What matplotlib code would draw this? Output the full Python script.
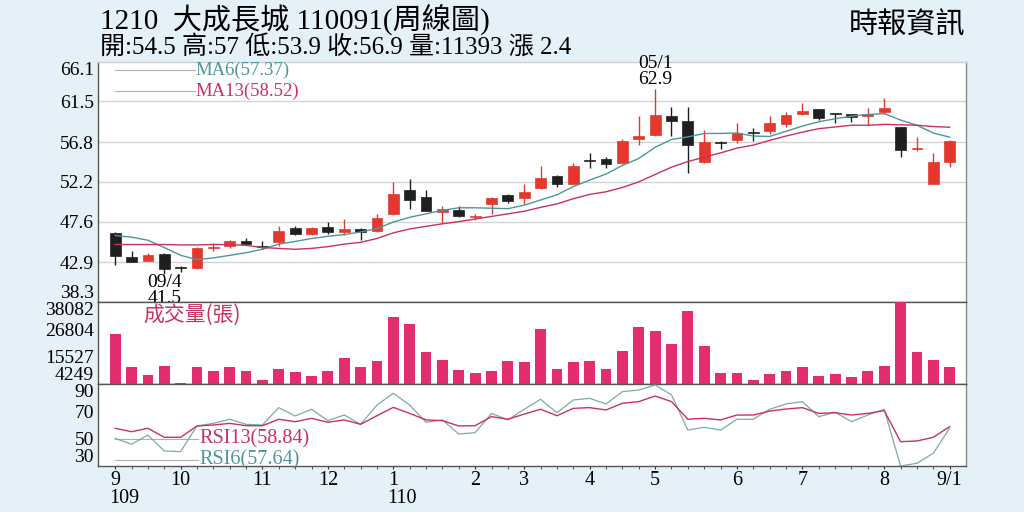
import matplotlib
matplotlib.use('Agg')
import matplotlib.pyplot as plt
import matplotlib.transforms as mtransforms

# 1210 大成長城 週線 (109/09 ~ 110/09/1)
opens = [46.3, 43.55, 43.05, 43.8, 42.4, 42.2, 44.6, 44.8, 45.3, 44.8,
         45.2, 46.9, 46.15, 47.0, 46.4, 46.8, 46.55, 48.45, 51.25, 50.4,
         48.75, 49.0, 48.15, 49.6, 50.65, 50.3, 51.45, 52.9, 52.0, 54.7,
         54.8, 54.35, 57.15, 57.6, 59.85, 59.25, 54.45, 56.85, 57.05, 57.9,
         58.1, 58.95, 60.0, 60.6, 60.1, 60.0, 59.85, 60.25, 58.55, 56.05,
         51.95, 54.5]
highs = [46.4, 44.2, 44.0, 44.0, 42.45, 44.7, 45.1, 45.5, 45.7, 45.3,
         47.1, 47.05, 46.95, 47.6, 47.9, 46.9, 48.5, 52.2, 52.5, 51.25,
         49.4, 49.4, 48.45, 50.4, 50.85, 51.9, 54.0, 53.0, 54.35, 55.5,
         55.1, 57.2, 59.8, 62.9, 60.9, 60.9, 58.2, 56.9, 59.05, 58.4,
         59.8, 60.3, 61.3, 60.6, 60.2, 60.05, 60.7, 61.85, 58.6, 57.35,
         55.55, 57.0]
lows = [42.55, 42.9, 43.0, 41.5, 41.8, 42.15, 44.2, 44.6, 44.9, 44.4,
        44.75, 46.05, 46.1, 46.15, 46.0, 45.5, 46.4, 48.4, 49.1, 48.8,
        47.4, 48.15, 47.8, 48.5, 49.7, 49.6, 51.4, 51.55, 51.95, 53.85,
        53.85, 54.3, 56.45, 57.5, 57.5, 53.25, 54.4, 56.05, 56.65, 56.95,
        57.7, 58.5, 59.95, 59.35, 59.0, 59.15, 58.8, 60.1, 55.1, 55.8,
        51.9, 53.9]
closes = [43.6, 42.95, 43.7, 42.1, 42.2, 44.55, 44.65, 45.3, 45.0, 44.7,
          46.5, 46.15, 46.9, 46.4, 46.8, 46.45, 48.0, 50.75, 50.1, 48.85,
          49.1, 48.25, 48.3, 50.3, 49.95, 51.0, 52.7, 51.95, 54.0, 54.6,
          54.25, 56.95, 57.5, 59.95, 59.25, 56.45, 56.85, 56.65, 57.9, 57.85,
          59.05, 59.95, 60.45, 59.55, 60.05, 59.75, 60.1, 60.7, 55.85, 56.1,
          54.5, 56.9]
volumes = [25016, 11400, 7825, 11538, 4800, 11125, 9750, 11125, 9475, 6037,
           10300, 9200, 7412, 9475, 14976, 11125, 13876, 32030, 29004, 17590,
           14151, 10025, 8787, 9475, 13876, 13326, 27079, 10300, 13188, 13601,
           10300, 18002, 27903, 25978, 20890, 34506, 20064, 8650, 8925, 5762,
           8512, 9612, 11125, 7687, 8237, 6999, 9475, 11813, 38082, 17590,
           14151, 11393]
ma6 = [46.0, 45.8, 45.45, 44.6, 43.7, 43.2, 43.4, 43.7, 44.0, 44.4,
       45.0, 45.3, 45.65, 45.9, 46.1, 46.4, 46.8, 47.55, 48.1, 48.5,
       48.9, 49.2, 49.2, 49.15, 49.1, 49.5, 50.1, 50.7, 51.65, 52.4,
       53.1, 54.1, 54.9, 56.2, 57.1, 57.4, 57.8, 57.8, 57.85, 57.5,
       57.45, 58.05, 58.65, 59.15, 59.5, 59.8, 60.0, 60.1, 59.35, 58.75,
       57.85, 57.37]
ma13 = [44.95, 44.95, 44.95, 44.95, 44.9, 44.9, 44.95, 44.95, 44.85, 44.6,
        44.5, 44.4, 44.5, 44.7, 45.0, 45.2, 45.65, 46.3, 46.75, 47.05,
        47.35, 47.6, 47.9, 48.2, 48.5, 48.8, 49.25, 49.65, 50.25, 50.75,
        51.05, 51.55, 52.2, 53.05, 53.9, 54.55, 55.05, 55.55, 56.1, 56.45,
        57.0, 57.5, 57.95, 58.35, 58.55, 58.75, 58.75, 58.85, 58.8, 58.75,
        58.6, 58.52]
rsi13 = [57.6, 55.1, 57.6, 51.0, 51.0, 59.3, 60.0, 61.2, 59.5, 59.5,
         64.2, 62.4, 64.9, 62.0, 63.7, 60.5, 66.8, 72.9, 68.5, 63.7,
         63.2, 59.3, 59.5, 66.1, 64.2, 68.0, 71.5, 66.8, 72.2, 72.7,
         71.0, 75.9, 77.1, 81.2, 77.1, 64.2, 64.9, 63.7, 67.3, 67.3,
         70.2, 71.7, 72.7, 68.5, 69.0, 67.3, 68.5, 70.5, 47.8, 48.3,
         51.0, 58.84]
rsi6 = [50.2, 45.9, 52.7, 41.0, 40.5, 59.3, 61.2, 64.2, 60.5, 60.0,
        72.7, 66.6, 71.5, 63.2, 67.3, 60.5, 74.6, 83.2, 74.6, 62.0,
        63.7, 53.4, 54.4, 68.5, 63.7, 71.5, 78.8, 69.0, 78.3, 79.5,
        75.4, 84.4, 85.6, 89.3, 82.0, 56.3, 58.3, 56.3, 64.2, 64.2,
        71.5, 75.4, 77.1, 66.1, 69.3, 62.4, 67.3, 71.5, 30.0, 32.0,
        39.3, 57.64]

month_pos = [0, 4, 9, 13, 17, 22, 25, 29, 33, 38, 42, 47, 51]
month_labels = ['9', '10', '11', '12', '1', '2', '3', '4', '5', '6', '7', '8', '9/1']
year_pos = [0, 17]
year_labels = ['109', '110']
price_ticks = [38.3, 42.9, 47.6, 52.2, 56.8, 61.5, 66.1]
vol_ticks = [4249, 15527, 26804, 38082]
rsi_ticks = [30, 50, 70, 90]

SERIF = ['Liberation Serif', 'Noto Sans CJK TC']
BG = '#e5f1f8'
RED = '#e3382d'
BLACK = '#1f1f1f'
PINK = '#e32d6f'
TEAL = '#4e969c'
CRIMSON = '#c8325e'
GRAYLINE = '#b0b0b0'

plt.rcParams['font.family'] = SERIF

fig = plt.figure(figsize=(10.24, 5.12), dpi=100, facecolor=BG)
L, W = 98 / 1024, 868 / 1024
ax_p = fig.add_axes([L, 1 - 302 / 512, W, 240.3 / 512])
ax_v = fig.add_axes([L, 1 - 384 / 512, W, 82 / 512], sharex=ax_p)
ax_r = fig.add_axes([L, 1 - 466 / 512, W, 82 / 512], sharex=ax_p)

x = list(range(len(closes)))

# K線
for i in x:
    o, h, l, c = opens[i], highs[i], lows[i], closes[i]
    col = RED if c >= o else BLACK
    ax_p.vlines(i, l, h, color=col, lw=1.0, zorder=3)
    body = max(abs(c - o), 0.07)
    ax_p.bar(i, body, bottom=min(o, c), width=0.66, color=col,
             edgecolor=col, lw=0.5, zorder=4)

ax_p.plot(x, ma6, color=TEAL, lw=1.0, zorder=5)
ax_p.plot(x, ma13, color=CRIMSON, lw=1.0, zorder=5)

ax_p.set_ylim(price_ticks[0], price_ticks[-1])
ax_p.set_yticks(price_ticks)
ax_p.set_yticklabels([f'{t:.1f}' for t in price_ticks])
for t in price_ticks[1:-1]:
    ax_p.axhline(t, color='#d4d4d4', lw=1.0, zorder=1)
ax_p.set_xlim(-1.05, 52.0)

# legend MA
tr = ax_p.transAxes
y6, y13 = 0.965, 0.878
ax_p.plot([0.02, 0.112], [y6, y6], color=GRAYLINE, lw=0.8, transform=tr)
ax_p.plot([0.02, 0.112], [y13, y13], color=GRAYLINE, lw=0.8, transform=tr)
ax_p.text(0.112, y6, 'MA6(57.37)', color=TEAL, fontsize=13.5,
          transform=tr, va='center', ha='left')
ax_p.text(0.112, y13, 'MA13(58.52)', color=CRIMSON, fontsize=13.5,
          transform=tr, va='center', ha='left')

# 高低點標示
ax_p.text(33, 63.0, '05/1\n62.9', ha='center', va='bottom', fontsize=14,
          linespacing=0.95, clip_on=False, zorder=10)
ax_p.text(3, 41.5, '09/4\n41.5', ha='center', va='top', fontsize=14,
          linespacing=0.9, clip_on=False, zorder=10)

# 成交量
ax_v.bar(x, volumes, width=0.66, color=PINK, zorder=3)
ax_v.set_ylim(vol_ticks[0], vol_ticks[-1])
ax_v.set_yticks(vol_ticks)
ax_v.text(0.052, 0.84, '成交量(張)', color=CRIMSON, fontsize=15,
          transform=ax_v.transAxes, va='center', ha='left',
          family=['Noto Sans CJK TC'])

# RSI
ax_r.plot(x, rsi6, color='#7fa9ab', lw=0.9, zorder=3)
ax_r.plot(x, rsi13, color=CRIMSON, lw=1.0, zorder=4)
ax_r.set_ylim(rsi_ticks[0], rsi_ticks[-1])
ax_r.set_yticks(rsi_ticks)
trr = ax_r.transAxes
r13, r6 = 0.33, 0.075
ax_r.plot([0.02, 0.115], [r13, r13], color=GRAYLINE, lw=0.8, transform=trr)
ax_r.plot([0.02, 0.115], [r6, r6], color=GRAYLINE, lw=0.8, transform=trr)
ax_r.text(0.117, r13, 'RSI13(58.84)', color=CRIMSON, fontsize=14.5,
          transform=trr, va='center', ha='left')
ax_r.text(0.117, r6, 'RSI6(57.64)', color=TEAL, fontsize=14.5,
          transform=trr, va='center', ha='left')

ax_r.set_xticks(month_pos)
ax_r.set_xticklabels(month_labels)
ax_r.set_xticks(x, minor=True)
ax_r.tick_params(axis='x', which='both', direction='out', length=2.5,
                 color='#333333', labelsize=14.5, pad=1)
blend = mtransforms.blended_transform_factory(ax_r.transData, ax_r.transAxes)
for p, lab in zip(year_pos, year_labels):
    ax_r.text(p - 0.35, -0.40, lab, transform=blend, ha='left', va='center',
              fontsize=14.5, clip_on=False)

for ax in (ax_p, ax_v, ax_r):
    ax.set_facecolor('white')
    ax.tick_params(axis='y', length=0, labelsize=14, pad=3)
    for s in ax.spines.values():
        s.set_color('#555555')
        s.set_linewidth(1.0)
    ax.spines['right'].set_color('#8a8a8a')
ax_p.spines['top'].set_color('#cfcfcf')
ax_p.tick_params(axis='x', which='both', bottom=False, labelbottom=False)
ax_v.tick_params(axis='x', which='both', bottom=False, labelbottom=False)

# 標籤上下對齊
for ax in (ax_p, ax_v, ax_r):
    labs = ax.get_yticklabels()
    labs[0].set_va('bottom')
    labs[-1].set_va('top')

# 標題
fig.text(100 / 1024, 1 - 19 / 512, '1210  大成長城 110091(周線圖)',
         fontsize=21, va='center', ha='left')
fig.text(100 / 1024, 1 - 47 / 512,
         '開:54.5 高:57 低:53.9 收:56.9 量:11393 漲 2.4',
         fontsize=18, va='center', ha='left')
fig.text(965 / 1024, 1 - 25 / 512, '時報資訊', fontsize=21, va='center',
         ha='right', family=['Noto Sans CJK TC'])

fig.savefig('out.png', dpi=100, facecolor=BG)
